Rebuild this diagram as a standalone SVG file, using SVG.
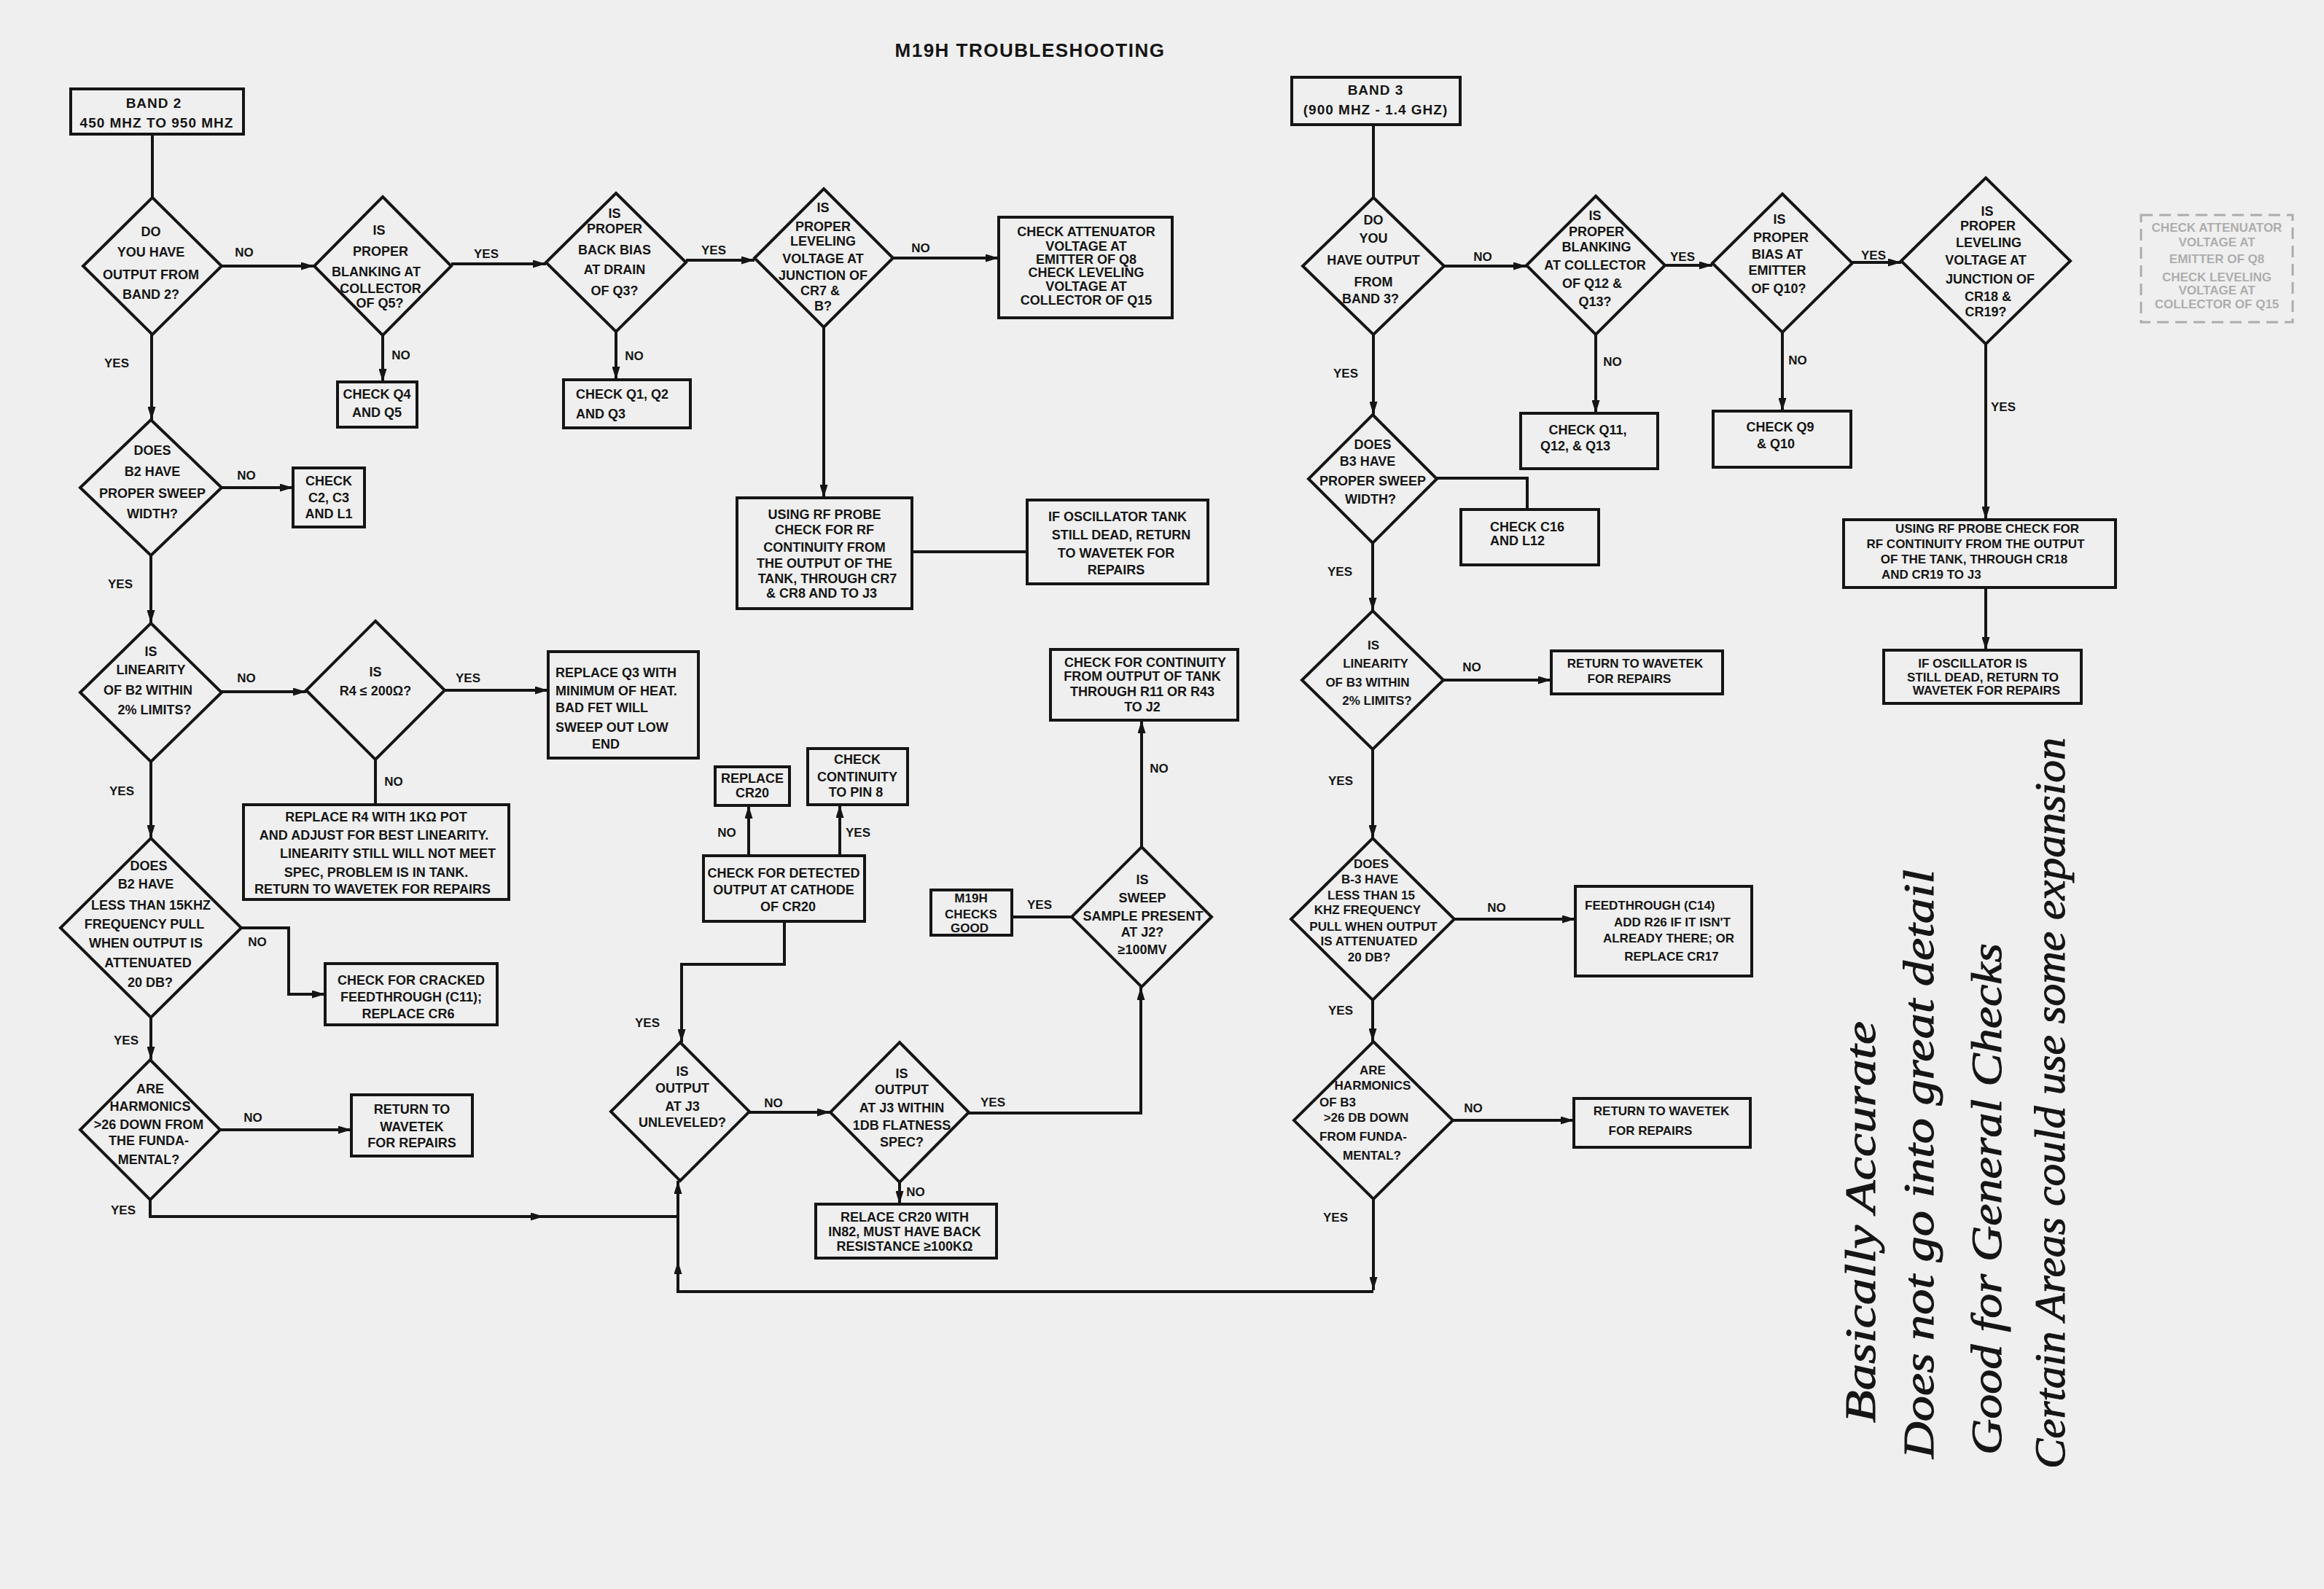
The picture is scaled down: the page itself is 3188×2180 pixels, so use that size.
<svg xmlns="http://www.w3.org/2000/svg" width="3188" height="2180" viewBox="0 0 3188 2180">
<style>
.s{fill:none;stroke:#151515;stroke-width:4}
.c path{fill:none;stroke:#151515;stroke-width:4}
.a{marker-end:url(#ah)}
text{font-family:"Liberation Sans",Arial,sans-serif;font-weight:bold;font-size:18px;fill:#151515;text-anchor:middle}
.st{text-anchor:start}
.sm{font-size:17px}
.lb{font-size:17px}
.ttl{font-size:26px;letter-spacing:1.5px}
.bh{font-size:19px;letter-spacing:1px}
.hw{font-family:"Liberation Serif","DejaVu Serif",serif;font-style:italic;font-weight:normal;font-size:60px;text-anchor:start;stroke:#151515;stroke-width:1}
.faint{opacity:0.3}
</style>
<defs>
<marker id="ah" viewBox="0 0 18 11" refX="18" refY="5.5" markerWidth="18" markerHeight="11" markerUnits="userSpaceOnUse" orient="auto"><path d="M0,0 L18,5.5 L0,11 z" fill="#151515"/></marker>
</defs>
<rect width="3188" height="2180" fill="#efefef"/>
<text class="ttl" x="1413" y="78">M19H TROUBLESHOOTING</text>

<g class="c" id="connectors">
<path d="M209,184 V271"/>
<path class="a" d="M304,365 H431"/>
<path class="a" d="M619,362 H749"/>
<path class="a" d="M941,357 H1035"/>
<path class="a" d="M1225,354 H1370"/>
<path class="a" d="M525,460 V524"/>
<path class="a" d="M845,455 V521"/>
<path class="a" d="M1130,449 V683"/>
<path d="M1251,757 H1409"/>
<path class="a" d="M208,459 V576"/>
<path class="a" d="M304,669 H402"/>
<path class="a" d="M207,762 V855"/>
<path class="a" d="M304,949 H420"/>
<path class="a" d="M610,947 H752"/>
<path d="M515,1042 V1104"/>
<path class="a" d="M207,1045 V1150"/>
<path class="a" d="M331,1273 H396 V1364 H446"/>
<path class="a" d="M207,1396 V1454"/>
<path class="a" d="M302,1550 H482"/>
<path class="a" d="M206,1646 V1669 H746"/>
<path d="M740,1669 H932"/>
<path class="a" d="M1884,1645 V1770"/>
<path class="a" d="M1884,1772 H930 V1730"/>
<path class="a" d="M930,1734 V1620"/>
<path class="a" d="M1076,1264 V1323 H935 V1430"/>
<path class="a" d="M1028,1526 H1139"/>
<path class="a" d="M1329,1527 H1565 V1354"/>
<path class="a" d="M1234,1622 V1652"/>
<path class="a" d="M1566,1162 V988"/>
<path d="M1470,1258 H1388"/>
<path class="a" d="M1027,1174 V1105"/>
<path class="a" d="M1152,1174 V1104"/>
<path d="M1884,171 V271"/>
<path class="a" d="M1981,365 H2094"/>
<path class="a" d="M2284,364 H2349"/>
<path class="a" d="M2541,360 H2608"/>
<path class="a" d="M2189,459 V567"/>
<path class="a" d="M2445,456 V564"/>
<path class="a" d="M2724,472 V713"/>
<path class="a" d="M2724,806 V892"/>
<path class="a" d="M1884,459 V569"/>
<path d="M1971,656 H2095 V699"/>
<path class="a" d="M1883,745 V838"/>
<path class="a" d="M1980,933 H2128"/>
<path class="a" d="M1883,1028 V1150"/>
<path class="a" d="M1995,1261 H2161"/>
<path class="a" d="M1883,1372 V1429"/>
<path class="a" d="M1993,1537 H2159"/>
</g>

<g id="labels" class="lb">
<text class="lb" x="335" y="352">NO</text>
<text class="lb" x="667" y="354">YES</text>
<text class="lb" x="979" y="349">YES</text>
<text class="lb" x="1263" y="346">NO</text>
<text class="lb" x="550" y="493">NO</text>
<text class="lb" x="870" y="494">NO</text>
<text class="lb" x="160" y="504">YES</text>
<text class="lb" x="338" y="658">NO</text>
<text class="lb" x="165" y="807">YES</text>
<text class="lb" x="338" y="936">NO</text>
<text class="lb" x="642" y="936">YES</text>
<text class="lb" x="540" y="1078">NO</text>
<text class="lb" x="167" y="1091">YES</text>
<text class="lb" x="353" y="1298">NO</text>
<text class="lb" x="173" y="1433">YES</text>
<text class="lb" x="347" y="1539">NO</text>
<text class="lb" x="169" y="1666">YES</text>
<text class="lb" x="888" y="1409">YES</text>
<text class="lb" x="1061" y="1519">NO</text>
<text class="lb" x="1362" y="1518">YES</text>
<text class="lb" x="1256" y="1641">NO</text>
<text class="lb" x="1590" y="1060">NO</text>
<text class="lb" x="1426" y="1247">YES</text>
<text class="lb" x="997" y="1148">NO</text>
<text class="lb" x="1177" y="1148">YES</text>
<text class="lb" x="2034" y="358">NO</text>
<text class="lb" x="2308" y="358">YES</text>
<text class="lb" x="2570" y="356">YES</text>
<text class="lb" x="2212" y="502">NO</text>
<text class="lb" x="2466" y="500">NO</text>
<text class="lb" x="2748" y="564">YES</text>
<text class="lb" x="1846" y="518">YES</text>
<text class="lb" x="1838" y="790">YES</text>
<text class="lb" x="2019" y="921">NO</text>
<text class="lb" x="1839" y="1077">YES</text>
<text class="lb" x="2053" y="1251">NO</text>
<text class="lb" x="1839" y="1392">YES</text>
<text class="lb" x="2021" y="1526">NO</text>
<text class="lb" x="1832" y="1676">YES</text>
</g>

<g id="band2">
<rect class="s" x="97" y="122" width="237" height="62"/>
<text class="bh" x="211" y="148">BAND 2</text>
<text class="bh" x="215" y="175">450 MHZ TO 950 MHZ</text>
</g>
<g id="d1">
<polygon class="s" points="209,271 304,365 209,459 114,365"/>
<text x="207" y="324">DO</text>
<text x="207" y="352">YOU HAVE</text>
<text x="207" y="383">OUTPUT FROM</text>
<text x="207" y="410">BAND 2?</text>
</g>
<g id="d2">
<polygon class="s" points="525,270 619,365 525,460 431,365"/>
<text x="520" y="322">IS</text>
<text x="522" y="351">PROPER</text>
<text x="516" y="379">BLANKING AT</text>
<text x="522" y="402">COLLECTOR</text>
<text x="521" y="422">OF Q5?</text>
</g>
<g id="d3">
<polygon class="s" points="845,265 941,360 845,455 749,360"/>
<text x="843" y="299">IS</text>
<text x="843" y="320">PROPER</text>
<text x="843" y="349">BACK BIAS</text>
<text x="843" y="376">AT DRAIN</text>
<text x="843" y="405">OF Q3?</text>
</g>
<g id="d4">
<polygon class="s" points="1130,259 1225,354 1130,449 1035,354"/>
<text x="1129" y="291">IS</text>
<text x="1129" y="317">PROPER</text>
<text x="1129" y="337">LEVELING</text>
<text x="1129" y="361">VOLTAGE AT</text>
<text x="1129" y="384">JUNCTION OF</text>
<text x="1125" y="405">CR7 &amp;</text>
<text x="1129" y="426">B?</text>
</g>
<g id="check_q4">
<rect class="s" x="463" y="524" width="109" height="62"/>
<text x="517" y="547">CHECK Q4</text>
<text x="517" y="572">AND Q5</text>
</g>
<g id="check_q1">
<rect class="s" x="773" y="521" width="174" height="66"/>
<text class="st" x="790" y="547">CHECK Q1, Q2</text>
<text class="st" x="790" y="574">AND Q3</text>
</g>
<g id="check_atten">
<rect class="s" x="1370" y="298" width="238" height="138"/>
<text x="1490" y="324">CHECK ATTENUATOR</text>
<text x="1490" y="344">VOLTAGE AT</text>
<text x="1490" y="362">EMITTER OF Q8</text>
<text x="1490" y="380">CHECK LEVELING</text>
<text x="1490" y="399">VOLTAGE AT</text>
<text x="1490" y="418">COLLECTOR OF Q15</text>
</g>
<g id="rf_probe2">
<rect class="s" x="1011" y="683" width="240" height="152"/>
<text x="1131" y="712">USING RF PROBE</text>
<text x="1131" y="733">CHECK FOR RF</text>
<text x="1131" y="757">CONTINUITY FROM</text>
<text x="1131" y="779">THE OUTPUT OF THE</text>
<text x="1135" y="800">TANK, THROUGH CR7</text>
<text x="1127" y="820">&amp; CR8 AND TO J3</text>
</g>
<g id="osc_dead2">
<rect class="s" x="1409" y="686" width="248" height="115"/>
<text x="1533" y="715">IF OSCILLATOR TANK</text>
<text x="1538" y="740">STILL DEAD, RETURN</text>
<text x="1531" y="765">TO WAVETEK FOR</text>
<text x="1531" y="788">REPAIRS</text>
</g>
<g id="d5">
<polygon class="s" points="207,576 304,669 207,762 110,669"/>
<text x="209" y="624">DOES</text>
<text x="209" y="653">B2 HAVE</text>
<text x="209" y="683">PROPER SWEEP</text>
<text x="209" y="711">WIDTH?</text>
</g>
<g id="check_c2">
<rect class="s" x="402" y="642" width="98" height="81"/>
<text x="451" y="666">CHECK</text>
<text x="451" y="689">C2, C3</text>
<text x="451" y="711">AND L1</text>
</g>
<g id="d6">
<polygon class="s" points="207,855 304,950 207,1045 110,950"/>
<text x="207" y="900">IS</text>
<text x="207" y="925">LINEARITY</text>
<text x="203" y="953">OF B2 WITHIN</text>
<text x="212" y="980">2% LIMITS?</text>
</g>
<g id="d7">
<polygon class="s" points="515,852 610,947 515,1042 420,947"/>
<text x="515" y="928">IS</text>
<text x="515" y="954">R4 ≤ 200Ω?</text>
</g>
<g id="replace_q3">
<rect class="s" x="752" y="894" width="206" height="146"/>
<text class="st" x="762" y="929">REPLACE Q3 WITH</text>
<text class="st" x="762" y="954">MINIMUM OF HEAT.</text>
<text class="st" x="762" y="977">BAD FET WILL</text>
<text class="st" x="762" y="1004">SWEEP OUT LOW</text>
<text class="st" x="812" y="1027">END</text>
</g>
<g id="replace_r4">
<rect class="s" x="334" y="1104" width="364" height="130"/>
<text x="516" y="1127">REPLACE R4 WITH 1KΩ POT</text>
<text x="513" y="1152">AND ADJUST FOR BEST LINEARITY.</text>
<text x="532" y="1177">LINEARITY STILL WILL NOT MEET</text>
<text x="516" y="1203">SPEC, PROBLEM IS IN TANK.</text>
<text x="511" y="1226">RETURN TO WAVETEK FOR REPAIRS</text>
</g>
<g id="d8">
<polygon class="s" points="207,1150 331,1273 207,1396 83,1273"/>
<text x="204" y="1194">DOES</text>
<text x="200" y="1219">B2 HAVE</text>
<text x="207" y="1248">LESS THAN 15KHZ</text>
<text x="198" y="1274">FREQUENCY PULL</text>
<text x="200" y="1300">WHEN OUTPUT IS</text>
<text x="203" y="1327">ATTENUATED</text>
<text x="206" y="1354">20 DB?</text>
</g>
<g id="check_cracked">
<rect class="s" x="446" y="1322" width="236" height="84"/>
<text x="564" y="1351">CHECK FOR CRACKED</text>
<text x="564" y="1374">FEEDTHROUGH (C11);</text>
<text x="560" y="1397">REPLACE CR6</text>
</g>
<g id="d9">
<polygon class="s" points="206,1454 302,1550 206,1646 110,1550"/>
<text x="206" y="1500">ARE</text>
<text x="206" y="1524">HARMONICS</text>
<text x="204" y="1549">&gt;26 DOWN FROM</text>
<text x="204" y="1571">THE FUNDA-</text>
<text x="204" y="1597">MENTAL?</text>
</g>
<g id="return1">
<rect class="s" x="482" y="1502" width="166" height="84"/>
<text x="565" y="1528">RETURN TO</text>
<text x="565" y="1552">WAVETEK</text>
<text x="565" y="1574">FOR REPAIRS</text>
</g>
<g id="check_detected">
<rect class="s" x="965" y="1174" width="221" height="90"/>
<text x="1075" y="1204">CHECK FOR DETECTED</text>
<text x="1075" y="1227">OUTPUT AT CATHODE</text>
<text x="1081" y="1250">OF CR20</text>
</g>
<g id="replace_cr20">
<rect class="s" x="981" y="1052" width="102" height="53"/>
<text x="1032" y="1074">REPLACE</text>
<text x="1032" y="1094">CR20</text>
</g>
<g id="check_pin8">
<rect class="s" x="1108" y="1027" width="137" height="77"/>
<text x="1176" y="1048">CHECK</text>
<text x="1176" y="1072">CONTINUITY</text>
<text x="1174" y="1093">TO PIN 8</text>
</g>
<g id="check_tank">
<rect class="s" x="1441" y="891" width="257" height="97"/>
<text x="1571" y="915">CHECK FOR CONTINUITY</text>
<text x="1567" y="934">FROM OUTPUT OF TANK</text>
<text x="1567" y="955">THROUGH R11 OR R43</text>
<text x="1567" y="976">TO J2</text>
</g>
<g id="d10">
<polygon class="s" points="1566,1162 1662,1258 1566,1354 1470,1258"/>
<text x="1567" y="1213">IS</text>
<text x="1567" y="1238">SWEEP</text>
<text x="1568" y="1263">SAMPLE PRESENT</text>
<text x="1567" y="1285">AT J2?</text>
<text x="1567" y="1309">≥100MV</text>
</g>
<g id="m19h_good">
<rect class="s" x="1277" y="1221" width="111" height="62"/>
<text class="sm" x="1332" y="1238">M19H</text>
<text class="sm" x="1332" y="1260">CHECKS</text>
<text class="sm" x="1330" y="1279">GOOD</text>
</g>
<g id="d11">
<polygon class="s" points="933,1430 1028,1525 933,1620 838,1525"/>
<text x="936" y="1476">IS</text>
<text x="936" y="1499">OUTPUT</text>
<text x="936" y="1524">AT J3</text>
<text x="936" y="1546">UNLEVELED?</text>
</g>
<g id="d12">
<polygon class="s" points="1234,1430 1329,1526 1234,1622 1139,1526"/>
<text x="1237" y="1479">IS</text>
<text x="1237" y="1501">OUTPUT</text>
<text x="1237" y="1526">AT J3 WITHIN</text>
<text x="1237" y="1550">1DB FLATNESS</text>
<text x="1237" y="1573">SPEC?</text>
</g>
<g id="relace_cr20">
<rect class="s" x="1119" y="1652" width="248" height="74"/>
<text x="1241" y="1676">RELACE CR20 WITH</text>
<text x="1241" y="1696">IN82, MUST HAVE BACK</text>
<text x="1241" y="1716">RESISTANCE ≥100KΩ</text>
</g>

<g id="band3">
<rect class="s" x="1772" y="106" width="231" height="65"/>
<text class="bh" x="1887" y="130">BAND 3</text>
<text class="bh" x="1887" y="157">(900 MHZ - 1.4 GHZ)</text>
</g>
<g id="d13">
<polygon class="s" points="1884,271 1981,365 1884,459 1787,365"/>
<text x="1884" y="308">DO</text>
<text x="1884" y="333">YOU</text>
<text x="1884" y="363">HAVE OUTPUT</text>
<text x="1884" y="393">FROM</text>
<text x="1880" y="416">BAND 3?</text>
</g>
<g id="d14">
<polygon class="s" points="2189,269 2284,364 2189,459 2094,364"/>
<text x="2188" y="302">IS</text>
<text x="2190" y="324">PROPER</text>
<text x="2190" y="345">BLANKING</text>
<text x="2188" y="370">AT COLLECTOR</text>
<text x="2184" y="395">OF Q12 &amp;</text>
<text x="2188" y="420">Q13?</text>
</g>
<g id="d15">
<polygon class="s" points="2445,266 2541,361 2445,456 2349,361"/>
<text x="2441" y="307">IS</text>
<text x="2443" y="332">PROPER</text>
<text x="2438" y="355">BIAS AT</text>
<text x="2438" y="377">EMITTER</text>
<text x="2440" y="402">OF Q10?</text>
</g>
<g id="d16">
<polygon class="s" points="2724,244 2840,358 2724,472 2608,358"/>
<text x="2726" y="296">IS</text>
<text x="2727" y="316">PROPER</text>
<text x="2728" y="339">LEVELING</text>
<text x="2724" y="363">VOLTAGE AT</text>
<text x="2730" y="389">JUNCTION OF</text>
<text x="2727" y="413">CR18 &amp;</text>
<text x="2724" y="434">CR19?</text>
</g>
<g id="check_q11">
<rect class="s" x="2086" y="567" width="188" height="76"/>
<text x="2178" y="596">CHECK Q11,</text>
<text x="2161" y="618">Q12, &amp; Q13</text>
</g>
<g id="check_q9">
<rect class="s" x="2350" y="564" width="189" height="77"/>
<text x="2442" y="592">CHECK Q9</text>
<text x="2436" y="615">&amp; Q10</text>
</g>
<g id="rf_probe3">
<rect class="s" x="2529" y="713" width="373" height="93"/>
<text class="sm" x="2726" y="731">USING RF PROBE CHECK FOR</text>
<text class="sm" x="2710" y="752">RF CONTINUITY FROM THE OUTPUT</text>
<text class="sm" x="2708" y="773">OF THE TANK, THROUGH CR18</text>
<text class="sm st" x="2581" y="794">AND CR19 TO J3</text>
</g>
<g id="osc_dead3">
<rect class="s" x="2584" y="892" width="271" height="73"/>
<text class="sm" x="2706" y="916">IF OSCILLATOR IS</text>
<text class="sm" x="2720" y="935">STILL DEAD, RETURN TO</text>
<text class="sm" x="2725" y="953">WAVETEK FOR REPAIRS</text>
</g>
<g id="stamp" class="faint">
<rect x="2937" y="295" width="208" height="147" fill="none" stroke="#151515" stroke-width="3" stroke-dasharray="16 9"/>
<text class="sm" x="3041" y="318">CHECK ATTENUATOR</text>
<text class="sm" x="3041" y="338">VOLTAGE AT</text>
<text class="sm" x="3041" y="361">EMITTER OF Q8</text>
<text class="sm" x="3041" y="386">CHECK LEVELING</text>
<text class="sm" x="3041" y="404">VOLTAGE AT</text>
<text class="sm" x="3041" y="423">COLLECTOR OF Q15</text>
</g>
<g id="d17">
<polygon class="s" points="1883,569 1971,657 1883,745 1795,657"/>
<text x="1883" y="616">DOES</text>
<text x="1876" y="639">B3 HAVE</text>
<text x="1883" y="666">PROPER SWEEP</text>
<text x="1880" y="691">WIDTH?</text>
</g>
<g id="check_c16">
<rect class="s" x="2004" y="699" width="189" height="76"/>
<text class="st" x="2044" y="729">CHECK C16</text>
<text class="st" x="2044" y="748">AND L12</text>
</g>
<g id="d18">
<polygon class="s" points="1883,838 1980,933 1883,1028 1786,933"/>
<text class="sm" x="1884" y="891">IS</text>
<text class="sm" x="1887" y="916">LINEARITY</text>
<text class="sm" x="1876" y="942">OF B3 WITHIN</text>
<text class="sm" x="1889" y="967">2% LIMITS?</text>
</g>
<g id="return3a">
<rect class="s" x="2128" y="893" width="235" height="59"/>
<text class="sm" x="2243" y="916">RETURN TO WAVETEK</text>
<text class="sm" x="2235" y="937">FOR REPAIRS</text>
</g>
<g id="d19">
<polygon class="s" points="1883,1150 1995,1261 1883,1372 1771,1261"/>
<text class="sm" x="1881" y="1191">DOES</text>
<text class="sm" x="1879" y="1212">B-3 HAVE</text>
<text class="sm" x="1881" y="1234">LESS THAN 15</text>
<text class="sm" x="1876" y="1254">KHZ FREQUENCY</text>
<text class="sm" x="1884" y="1277">PULL WHEN OUTPUT</text>
<text class="sm" x="1878" y="1297">IS ATTENUATED</text>
<text class="sm" x="1878" y="1319">20 DB?</text>
</g>
<g id="feedthrough3">
<rect class="s" x="2161" y="1216" width="242" height="123"/>
<text class="sm st" x="2174" y="1248">FEEDTHROUGH (C14)</text>
<text class="sm" x="2294" y="1271">ADD R26 IF IT ISN'T</text>
<text class="sm" x="2289" y="1293">ALREADY THERE; OR</text>
<text class="sm" x="2293" y="1318">REPLACE CR17</text>
</g>
<g id="d20">
<polygon class="s" points="1884,1429 1993,1537 1884,1645 1775,1537"/>
<text class="sm" x="1883" y="1474">ARE</text>
<text class="sm" x="1883" y="1495">HARMONICS</text>
<text class="sm st" x="1810" y="1518">OF B3</text>
<text class="sm" x="1874" y="1539">&gt;26 DB DOWN</text>
<text class="sm" x="1870" y="1565">FROM FUNDA-</text>
<text class="sm" x="1882" y="1591">MENTAL?</text>
</g>
<g id="return3b">
<rect class="s" x="2159" y="1507" width="242" height="67"/>
<text class="sm" x="2279" y="1530">RETURN TO WAVETEK</text>
<text class="sm" x="2264" y="1557">FOR REPAIRS</text>
</g>

<g id="handwriting">
<text class="hw" transform="translate(2572,1952) rotate(-90)" textLength="551" lengthAdjust="spacingAndGlyphs">Basically Accurate</text>
<text class="hw" transform="translate(2652,2001) rotate(-90)" textLength="808" lengthAdjust="spacingAndGlyphs">Does not go into great detail</text>
<text class="hw" transform="translate(2745,1996) rotate(-90)" textLength="702" lengthAdjust="spacingAndGlyphs">Good for General Checks</text>
<text class="hw" transform="translate(2832,2015) rotate(-90)" textLength="1003" lengthAdjust="spacingAndGlyphs">Certain Areas could use some expansion</text>
</g>
</svg>
